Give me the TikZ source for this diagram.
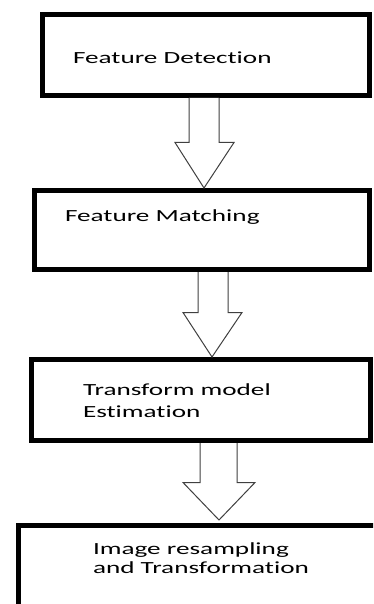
\documentclass[tikz,border=0pt]{standalone}
\usepackage{fontspec}
\newfontfamily\boxfont[FakeStretch=1.6,Ligatures=NoCommon]{Carlito}
\usetikzlibrary{calc}
\begin{document}
\begin{tikzpicture}[x=1pt,y=-1pt,
  stepbox/.style={draw=black,line width=5pt,rectangle,inner sep=0pt,outer sep=0pt},
  steptext/.style={anchor=base west,inner sep=0pt,outer sep=0pt,align=left,text=black,
    font=\boxfont\fontsize{17}{21.7}\selectfont},
  blockarrow/.style={draw=black!75,line width=1pt,fill=white,line join=miter}]
\useasboundingbox (0,0) rectangle (373,604);
\clip (0,0) rectangle (373,604);
% boxes
\node[stepbox,minimum width=327pt,minimum height=81pt] (b1) at (206,55) {};
\node[stepbox,minimum width=335pt,minimum height=79pt] (b2) at (202,230) {};
\node[stepbox,minimum width=339pt,minimum height=81pt] (b3) at (201,400) {};
\node[stepbox,minimum width=400pt,minimum height=140pt] (b4) at (218.5,595.5) {};
% texts
\node[steptext] (t1) at (73,64) {Feature Detection};
\node[steptext] (t2) at (65,221) {Feature Matching};
\node[steptext] (t3) at (83,417) {Transform model\\Estimation};
\node[steptext,font=\boxfont\fontsize{17}{19.5}\selectfont] (t4) at (93,573.5) {Image resampling\\and Transformation};
% block arrows
\draw[blockarrow] ($(b1.south)+(-17,2.5)$) -- ($(b1.south)+(-17,47)$) -- ($(b1.south)+(-31,47)$)
  -- ($(b2.north)+(2,-2.5)$) -- ($(b1.south)+(28,47)$) -- ($(b1.south)+(13,47)$) -- ($(b1.south)+(13,2.5)$);
\draw[blockarrow] ($(b2.south)+(-4,2.5)$) -- ($(b2.south)+(-4,43)$) -- ($(b2.south)+(-19,43)$)
  -- ($(b3.north)+(11,-2.5)$) -- ($(b2.south)+(40,43)$) -- ($(b2.south)+(26,43)$) -- ($(b2.south)+(26,2.5)$);
\draw[blockarrow] ($(b3.south)+(-1,2.5)$) -- ($(b3.south)+(-1,42)$) -- ($(b3.south)+(-18,42)$)
  -- ($(b4.north)+(0.5,-5.5)$) -- ($(b3.south)+(54,42)$) -- ($(b3.south)+(36,42)$) -- ($(b3.south)+(36,2.5)$);
\end{tikzpicture}
\end{document}
